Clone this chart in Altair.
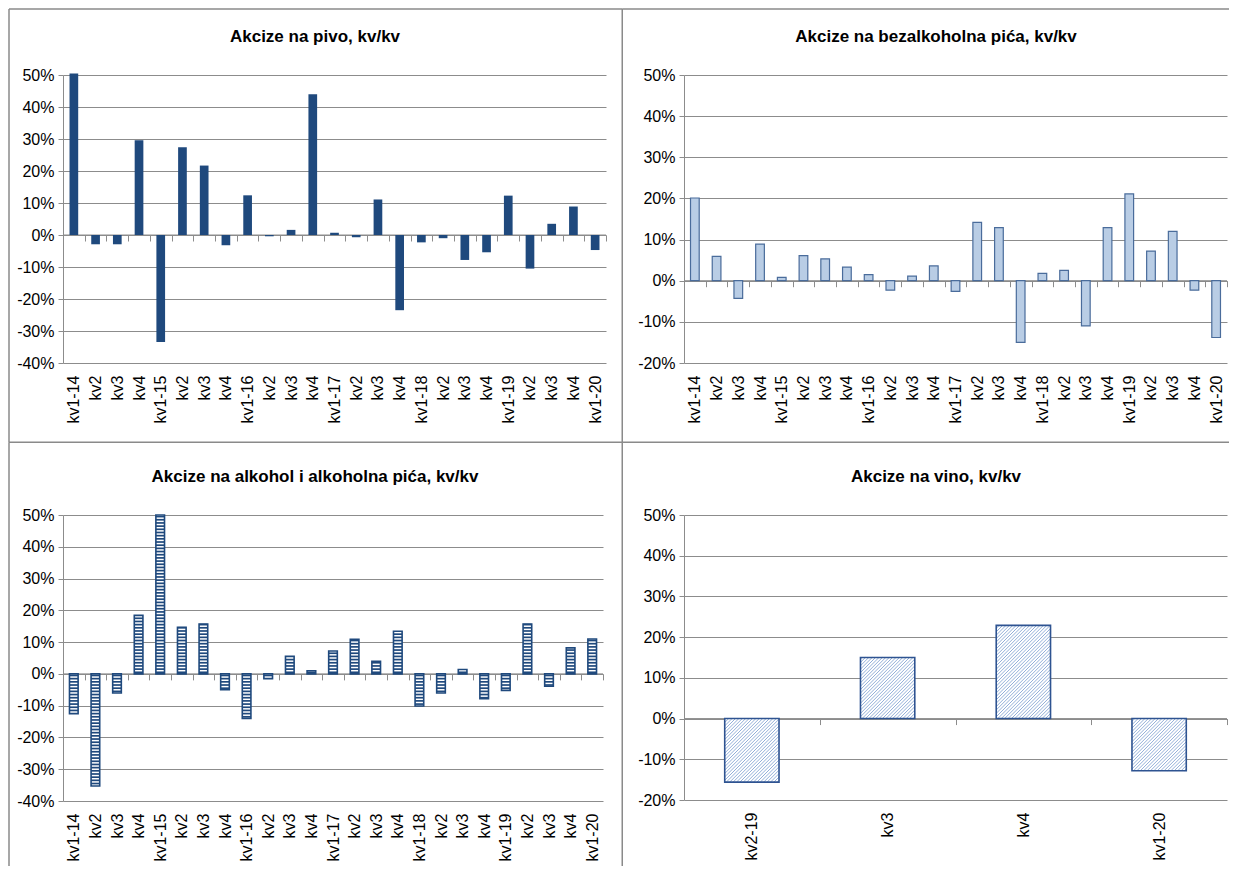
import altair as alt
import pandas as pd

FONT = "Liberation Sans, Arial, sans-serif"
GRID = "#8c8c8c"
BORDER = "#8a8a8a"

# ---------------- data ----------------
quarters = ["kv1-14", "kv2", "kv3", "kv4", "kv1-15", "kv2", "kv3", "kv4",
            "kv1-16", "kv2", "kv3", "kv4", "kv1-17", "kv2", "kv3", "kv4",
            "kv1-18", "kv2", "kv3", "kv4", "kv1-19", "kv2", "kv3", "kv4", "kv1-20"]
pivo = [50.5, -2.9, -2.9, 29.6, -33.4, 27.4, 21.7, -3.2, 12.4, -0.4, 1.6, 44.0, 0.7,
        -0.7, 11.1, -23.5, -2.3, -1.0, -7.8, -5.4, 12.3, -10.5, 3.5, 8.9, -4.7]
bezalkoholna = [20.1, 5.9, -4.3, 8.9, 0.8, 6.1, 5.3, 3.3, 1.5, -2.3, 1.1, 3.6, -2.6,
                14.2, 12.9, -15.0, 1.8, 2.5, -11.0, 12.9, 21.1, 7.2, 12.0, -2.3, -13.8]
alkohol = [-12.5, -35.3, -6.0, 18.4, 50.0, 14.7, 15.7, -5.0, -14.0, -1.5, 5.5, 1.0, 7.2,
           10.9, 4.0, 13.4, -10.1, -6.0, 1.4, -7.8, -5.2, 15.7, -3.9, 8.2, 11.0]
vino_quarters = ["kv2-19", "kv3", "kv4", "kv1-20"]
vino = [-15.6, 15.0, 22.9, -12.8]

titles = ["Akcize na pivo, kv/kv",
          "Akcize na bezalkoholna pića, kv/kv",
          "Akcize na alkohol i alkoholna pića, kv/kv",
          "Akcize na vino, kv/kv"]


def panel(title, labels, values, style, ymin, W, H, borders, hw=0.2):
    n = len(labels)
    df = pd.DataFrame({"i": list(range(n)), "v": values})
    base = alt.Chart(df).transform_calculate(
        xa=f"datum.i - {hw}", xb=f"datum.i + {hw}", z="0")
    xscale = alt.Scale(domain=[-0.5, n - 0.5], nice=False, zero=False)
    yscale = alt.Scale(domain=[ymin, 50], nice=False, zero=False)
    label_arr = "[" + ",".join(f"'{l}'" for l in labels) + "]"

    x_lab_axis = alt.Axis(values=list(range(n)), labelExpr=f"{label_arr}[datum.value]",
                          labelAngle=-90, ticks=False, domain=False, grid=False,
                          labelPadding=12, labelFontSize=16, labelFont=FONT,
                          labelColor="black", labelOverlap=False, labelFlush=False,
                          title=None, orient="bottom")
    y_axis = alt.Axis(values=list(range(ymin, 51, 10)), labelExpr="datum.value + '%'",
                      grid=True, gridColor=GRID, domainColor=GRID, tickColor=GRID,
                      tickSize=5, labelFontSize=16, labelFont=FONT, labelColor="black",
                      labelPadding=4, title=None, labelOverlap=False, orient="left")

    def Y(field):
        return alt.Y(field, scale=yscale, axis=y_axis)

    zero_px = H * (0 - ymin) / (50 - ymin)
    zdf = pd.DataFrame({"a": [-0.5], "b": [n - 0.5], "z": [0]})
    zero = alt.Chart(zdf).mark_rule(color=GRID, strokeWidth=1).encode(
        x=alt.X("a:Q", scale=xscale,
                axis=alt.Axis(orient="bottom", offset=-zero_px,
                              values=[k - 0.5 for k in range(n + 1)],
                              labels=False, domain=False, ticks=True, tickSize=6,
                              tickColor=GRID, grid=False, title=None)),
        x2="b:Q",
        y=Y("z:Q"),
    )

    layers = [zero]
    if style == "solid":
        layers.append(base.mark_bar(color="#1F497D").encode(
            x=alt.X("xa:Q", scale=xscale, axis=x_lab_axis), x2="xb:Q",
            y=Y("v:Q"), y2="z:Q"))
    elif style == "light":
        layers.append(base.mark_bar(fill="#B9CDE5", stroke="#4A6C9B", strokeWidth=1.2).encode(
            x=alt.X("xa:Q", scale=xscale, axis=x_lab_axis), x2="xb:Q",
            y=Y("v:Q"), y2="z:Q"))
    else:
        layers.append(base.mark_bar(fill="white").encode(
            x=alt.X("xa:Q", scale=xscale, axis=x_lab_axis), x2="xb:Q",
            y=Y("v:Q"), y2="z:Q"))
        if style == "stripes":
            pitch = 1.0
            layers.append(base.transform_calculate(
                s=f"sequence(0.5, abs(datum.v), {pitch})"
            ).transform_flatten(["s"]).transform_calculate(
                ys="datum.v < 0 ? -datum.s : datum.s"
            ).mark_rule(color="#1F497D", strokeWidth=1.7).encode(
                x=alt.X("xa:Q", scale=xscale, axis=None), x2="xb:Q",
                y=Y("ys:Q")))
            outline_color = "#1F497D"
        else:
            sx = W / n
            sy = H / (50 - ymin)
            wpx = 2 * hw * sx
            p = 3.4
            layers.append(base.transform_calculate(
                h=f"abs(datum.v) * {sy}"
            ).transform_calculate(
                ybot="min(0, datum.v)"
            ).transform_calculate(
                c=f"sequence({-wpx + p / 2}, datum.h, {p})"
            ).transform_flatten(["c"]).transform_calculate(
                X1="max(0, -datum.c)"
            ).transform_calculate(
                X2=f"min({wpx}, datum.h - datum.c)"
            ).transform_calculate(
                hx1=f"datum.xa + datum.X1 / {sx}",
                hx2=f"datum.xa + datum.X2 / {sx}",
                hy1=f"datum.ybot + (datum.X1 + datum.c) / {sy}",
                hy2=f"datum.ybot + (datum.X2 + datum.c) / {sy}",
            ).mark_rule(color="#93AFD8", strokeWidth=1.0).encode(
                x=alt.X("hx1:Q", scale=xscale, axis=None), x2="hx2:Q",
                y=Y("hy1:Q"), y2="hy2:Q"))
            outline_color = "#2E5391"
        layers.append(base.mark_bar(fillOpacity=0, stroke=outline_color, strokeWidth=1.6).encode(
            x=alt.X("xa:Q", scale=xscale, axis=None), x2="xb:Q",
            y=Y("v:Q"), y2="z:Q"))

    one = pd.DataFrame({"t": [title]})
    layers.append(alt.Chart(one).mark_text(
        font=FONT, fontSize=17, fontWeight="bold", color="black",
        align="center", baseline="middle").encode(
        text="t:N", x=alt.value(252), y=alt.value(-38)))
    for (x1, y1, x2, y2) in borders:
        layers.append(alt.Chart(one).mark_rule(color=BORDER, strokeWidth=1.5).encode(
            x=alt.value(x1), y=alt.value(y1), x2=alt.value(x2), y2=alt.value(y2)))

    return alt.layer(*layers).resolve_axis(x="independent").properties(width=W, height=H)


p1 = panel(titles[0], quarters, pivo, "solid", -40, 543, 288,
           [(-54, -66, 559.25, -66), (-54, -66, -54, 367.25),
            (559.25, -66, 559.25, 367.25), (-54, 367.25, 559.25, 367.25)])
p2 = panel(titles[1], quarters, bezalkoholna, "light", -20, 543, 288,
           [(-61.75, -66, 545, -66), (-61.75, 367.25, 545, 367.25)])
p3 = panel(titles[2], quarters, alkohol, "stripes", -40, 540, 286,
           [(-54, -72.75, -54, 351), (559.25, -72.75, 559.25, 351)])
p4 = panel(titles[3], vino_quarters, vino, "hatch", -20, 543, 285, [])

chart = alt.concat(p1, p2, p3, p4, columns=2,
                   spacing={"row": 152, "column": 78},
                   bounds="flush").configure_view(stroke=None).properties(padding=0)

chart.save("out.html", embed_options={"renderer": "svg", "actions": False})
